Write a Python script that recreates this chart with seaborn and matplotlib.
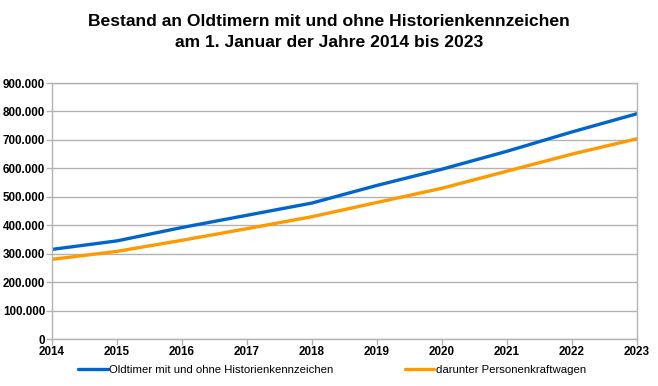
import numpy as np
import pandas as pd
import matplotlib
matplotlib.use("Agg")
import matplotlib.pyplot as plt
import seaborn as sns
from matplotlib.ticker import FuncFormatter, MultipleLocator

years = [2014, 2015, 2016, 2017, 2018, 2019, 2020, 2021, 2022, 2023]
oldtimer = [315000, 345000, 392000, 435000, 478000, 540000, 597000, 660000, 728000, 792000]
pkw = [280000, 308000, 347000, 388000, 430000, 480000, 530000, 590000, 650000, 704000]
series_names = ["Oldtimer mit und ohne Historienkennzeichen", "darunter Personenkraftwagen"]
colors = ["#0066cc", "#ff9900"]
title = "Bestand an Oldtimern mit und ohne Historienkennzeichen\nam 1. Januar der Jahre 2014 bis 2023"

df = pd.DataFrame({
    "Jahr": years * 2,
    "Wert": oldtimer + pkw,
    "Serie": [series_names[0]] * len(years) + [series_names[1]] * len(years),
})

sns.set_theme(style="white", rc={"text.color": "black", "axes.labelcolor": "black",
                                 "xtick.color": "black", "ytick.color": "black"})
plt.rcParams["font.family"] = ["Liberation Sans", "DejaVu Sans"]

fig = plt.figure(figsize=(6.58, 3.86), dpi=100)
ax = fig.add_axes([52/658, 1-339/386, (637-52)/658, (339-83)/386])

sns.lineplot(data=df, x="Jahr", y="Wert", hue="Serie", palette=colors,
             linewidth=2.4, ax=ax, legend=True)

ax.set_xlim(2014, 2023)
ax.set_ylim(0, 900000)
ax.set_xticks(years)
ax.yaxis.set_major_locator(MultipleLocator(100000))
ax.yaxis.set_major_formatter(FuncFormatter(lambda v, p: f"{int(v):,}".replace(",", ".")))
ax.grid(axis="y", color="#b3b3b3", linewidth=1)
ax.set_axisbelow(True)
for s in ax.spines.values():
    s.set_color("#b3b3b3")
    s.set_linewidth(1)
ax.tick_params(axis="both", which="major", length=4, width=1, color="#b3b3b3",
               labelcolor="black", labelsize=8.4, pad=1, direction="out",
               left=True, bottom=True)
for lbl in ax.get_xticklabels() + ax.get_yticklabels():
    lbl.set_fontweight("bold")
ax.set_xlabel("")
ax.set_ylabel("")

handles, labels = ax.get_legend_handles_labels()
ax.get_legend().remove()
fig.legend(handles, labels, loc="center left", bbox_to_anchor=(78/658, 1-370/386), ncol=2,
           frameon=False, fontsize=8.2, handlelength=2.6, handletextpad=0.1,
           columnspacing=6.3, borderpad=0, borderaxespad=0)

fig.text(0.5, 1-32/386, title, ha="center", va="center", fontsize=12.6,
         fontweight="bold", linespacing=1.45, color="black")

fig.savefig("out.png", dpi=100, facecolor="white")
